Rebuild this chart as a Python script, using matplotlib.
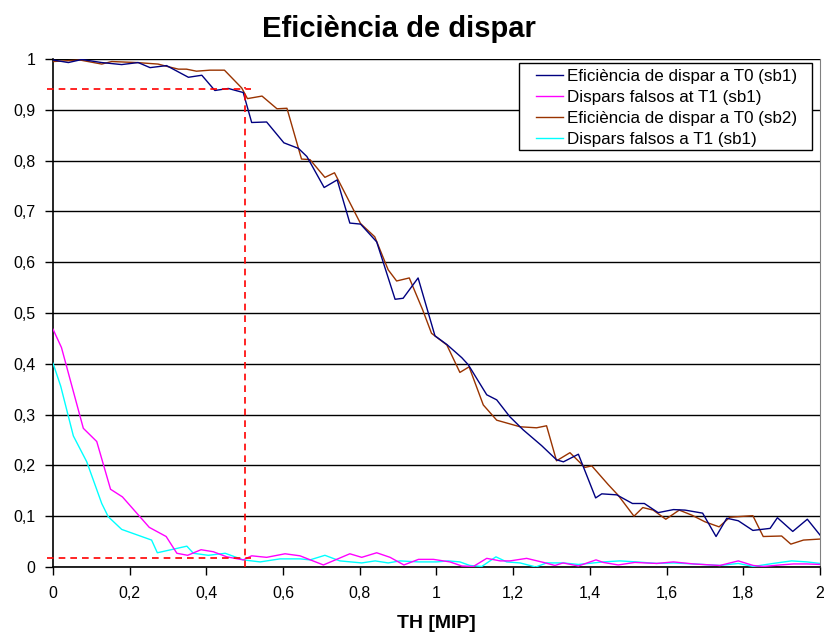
import matplotlib
matplotlib.use("Agg")
import matplotlib.pyplot as plt
from matplotlib.patches import Rectangle
from matplotlib.ticker import FuncFormatter, MultipleLocator

plt.rcParams['font.family'] = ['Liberation Sans', 'DejaVu Sans']

# eficiencia a T0, sb1
th_sb1 = [0, 0.04, 0.075, 0.127, 0.179, 0.222, 0.253, 0.296, 0.353, 0.388, 0.422, 0.457,
          0.496, 0.518, 0.557, 0.602, 0.64, 0.662, 0.707, 0.741, 0.774, 0.802, 0.844, 0.892,
          0.913, 0.952, 0.996, 1.027, 1.066, 1.083, 1.131, 1.157, 1.191, 1.226, 1.274, 1.313,
          1.331, 1.37, 1.415, 1.431, 1.47, 1.511, 1.542, 1.578, 1.618, 1.648, 1.694, 1.729,
          1.757, 1.787, 1.825, 1.87, 1.889, 1.929, 1.967, 2.0]
eff_sb1 = [0.998, 0.993, 0.999, 0.993, 0.989, 0.993, 0.983, 0.987, 0.964, 0.968, 0.938, 0.942,
           0.934, 0.875, 0.876, 0.835, 0.824, 0.808, 0.747, 0.762, 0.677, 0.675, 0.64, 0.527,
           0.529, 0.569, 0.455, 0.438, 0.412, 0.398, 0.339, 0.329, 0.296, 0.270, 0.239, 0.211,
           0.207, 0.222, 0.136, 0.144, 0.142, 0.125, 0.125, 0.107, 0.113, 0.112, 0.106, 0.06,
           0.096, 0.091, 0.072, 0.076, 0.097, 0.07, 0.094, 0.063]

# dispars falsos a T1, sb1 (corba magenta)
th_fals1 = [0, 0.022, 0.079, 0.114, 0.150, 0.181, 0.251, 0.295, 0.323, 0.351, 0.386, 0.418,
            0.453, 0.496, 0.518, 0.557, 0.605, 0.644, 0.705, 0.774, 0.805, 0.844, 0.879, 0.915,
            0.953, 0.992, 1.035, 1.066, 1.096, 1.131, 1.166, 1.192, 1.235, 1.279, 1.309, 1.33,
            1.37, 1.416, 1.435, 1.474, 1.517, 1.574, 1.618, 1.67, 1.739, 1.787, 1.826, 1.852,
            1.896, 1.931, 1.966, 2.0]
fals1 = [0.468, 0.432, 0.273, 0.247, 0.153, 0.138, 0.078, 0.06, 0.027, 0.023, 0.034, 0.030,
         0.02, 0.014, 0.022, 0.019, 0.026, 0.022, 0.004, 0.026, 0.019, 0.028, 0.019, 0.004,
         0.015, 0.015, 0.01, 0.002, 0.001, 0.017, 0.012, 0.012, 0.017, 0.009, 0.003, 0.008,
         0.002, 0.014, 0.009, 0.004, 0.009, 0.007, 0.01, 0.006, 0.003, 0.012, 0.003, 0.001,
         0.004, 0.006, 0.006, 0.005]

# eficiencia a T0, sb2
th_sb2 = [0, 0.07, 0.127, 0.153, 0.218, 0.274, 0.294, 0.327, 0.348, 0.374, 0.409, 0.447,
          0.492, 0.507, 0.545, 0.584, 0.61, 0.648, 0.67, 0.709, 0.734, 0.766, 0.802, 0.839,
          0.874, 0.896, 0.929, 0.964, 0.987, 1.027, 1.061, 1.085, 1.122, 1.157, 1.218, 1.261,
          1.287, 1.313, 1.348, 1.387, 1.405, 1.448, 1.474, 1.515, 1.538, 1.565, 1.598, 1.633,
          1.666, 1.7, 1.737, 1.765, 1.825, 1.852, 1.9, 1.924, 1.957, 2.0]
eff_sb2 = [0.995, 0.998, 0.99, 0.995, 0.993, 0.99, 0.986, 0.98, 0.98, 0.976, 0.978, 0.978,
           0.943, 0.922, 0.927, 0.902, 0.903, 0.803, 0.802, 0.767, 0.776, 0.729, 0.676, 0.65,
           0.585, 0.563, 0.569, 0.506, 0.46, 0.437, 0.383, 0.394, 0.319, 0.289, 0.276, 0.274,
           0.278, 0.209, 0.225, 0.196, 0.199, 0.162, 0.141, 0.1, 0.117, 0.112, 0.094, 0.112,
           0.102, 0.089, 0.079, 0.098, 0.101, 0.06, 0.061, 0.045, 0.053, 0.055]

# dispars falsos a T1 (corba cian)
th_fals2 = [0, 0.02, 0.053, 0.088, 0.127, 0.144, 0.179, 0.257, 0.272, 0.349, 0.366, 0.405,
            0.449, 0.496, 0.54, 0.592, 0.644, 0.67, 0.709, 0.748, 0.805, 0.84, 0.874, 0.905,
            0.953, 1.0, 1.031, 1.061, 1.087, 1.118, 1.155, 1.183, 1.218, 1.259, 1.287, 1.33,
            1.37, 1.435, 1.478, 1.522, 1.574, 1.618, 1.67, 1.739, 1.787, 1.826, 1.878, 1.926,
            1.966, 2.0]
fals2 = [0.401, 0.356, 0.258, 0.207, 0.125, 0.099, 0.074, 0.053, 0.028, 0.041, 0.027, 0.023,
         0.027, 0.014, 0.01, 0.016, 0.016, 0.014, 0.023, 0.012, 0.008, 0.012, 0.008, 0.012,
         0.01, 0.01, 0.012, 0.01, 0.003, 0.001, 0.02, 0.01, 0.008, 0.0, 0.008, 0.008,
         0.005, 0.01, 0.012, 0.01, 0.007, 0.008, 0.006, 0.003, 0.007, 0.001, 0.007, 0.012,
         0.01, 0.007]

labels = ["Eficiència de dispar a T0 (sb1)", "Dispars falsos at T1 (sb1)",
          "Eficiència de dispar a T0 (sb2)", "Dispars falsos a T1 (sb1)"]

# punt de treball marcat amb línies vermelles
th_cut = 0.5
eff_cut = 0.94
fals_cut = 0.018

fig = plt.figure(figsize=(8.26, 6.35), dpi=100)
ax = fig.add_axes([0.0642, 0.1071, 0.9285, 0.8])

ax.plot(th_sb1, eff_sb1, color='#000080', lw=1.0, label=labels[0], zorder=4)
ax.plot(th_fals1, fals1, color='#FF00FF', lw=1.0, label=labels[1], zorder=4)
ax.plot(th_sb2, eff_sb2, color='#993300', lw=1.0, label=labels[2], zorder=3)
ax.plot(th_fals2, fals2, color='#00FFFF', lw=1.0, label=labels[3], zorder=3)

red = dict(color='#FF0000', lw=1.2, ls=(0, (4, 3)), zorder=5, clip_on=False)
ax.plot([-0.016, 0.515], [eff_cut, eff_cut], **red)
ax.plot([-0.016, 0.515], [fals_cut, fals_cut], **red)
ax.plot([th_cut, th_cut], [0, 0.945], **red)

ax.set_xlim(0, 2)
ax.set_ylim(0, 1)
ax.xaxis.set_major_locator(MultipleLocator(0.2))
ax.yaxis.set_major_locator(MultipleLocator(0.1))
comma = FuncFormatter(lambda v, p: ('%g' % round(v, 2)).replace('.', ','))
ax.xaxis.set_major_formatter(comma)
ax.yaxis.set_major_formatter(comma)
ax.tick_params(direction='out', length=5.5, width=1, labelsize=11.5, color='black')
ax.tick_params(axis='x', pad=8)
ax.tick_params(axis='y', pad=7)

ax.grid(axis='y', color='black', lw=1)
ax.set_axisbelow(True)
ax.spines['top'].set_visible(False)
ax.spines['right'].set_color('#808080')
ax.spines['left'].set_linewidth(1.2)
ax.spines['bottom'].set_linewidth(1.2)

ax.set_xlabel("TH [MIP]", fontsize=14, fontweight='bold', labelpad=10)
fig.text(0.483, 0.9422, "Eficiència de dispar", fontsize=21, fontweight='bold',
         ha='center', va='baseline')

# caixa de la llegenda dibuixada a part
ax.add_patch(Rectangle((0.6076, 0.8209), 0.3825, 0.1707, transform=ax.transAxes,
                       facecolor='white', edgecolor='black', lw=1, zorder=6, clip_on=False))
leg = ax.legend(loc='upper left', bbox_to_anchor=(0.6297, 0.980), borderaxespad=0,
                borderpad=0, frameon=False, fontsize=12.25, handlelength=1.6,
                handletextpad=0.25, labelspacing=0.35)
leg.set_zorder(7)

fig.savefig("out.png", dpi=100)
